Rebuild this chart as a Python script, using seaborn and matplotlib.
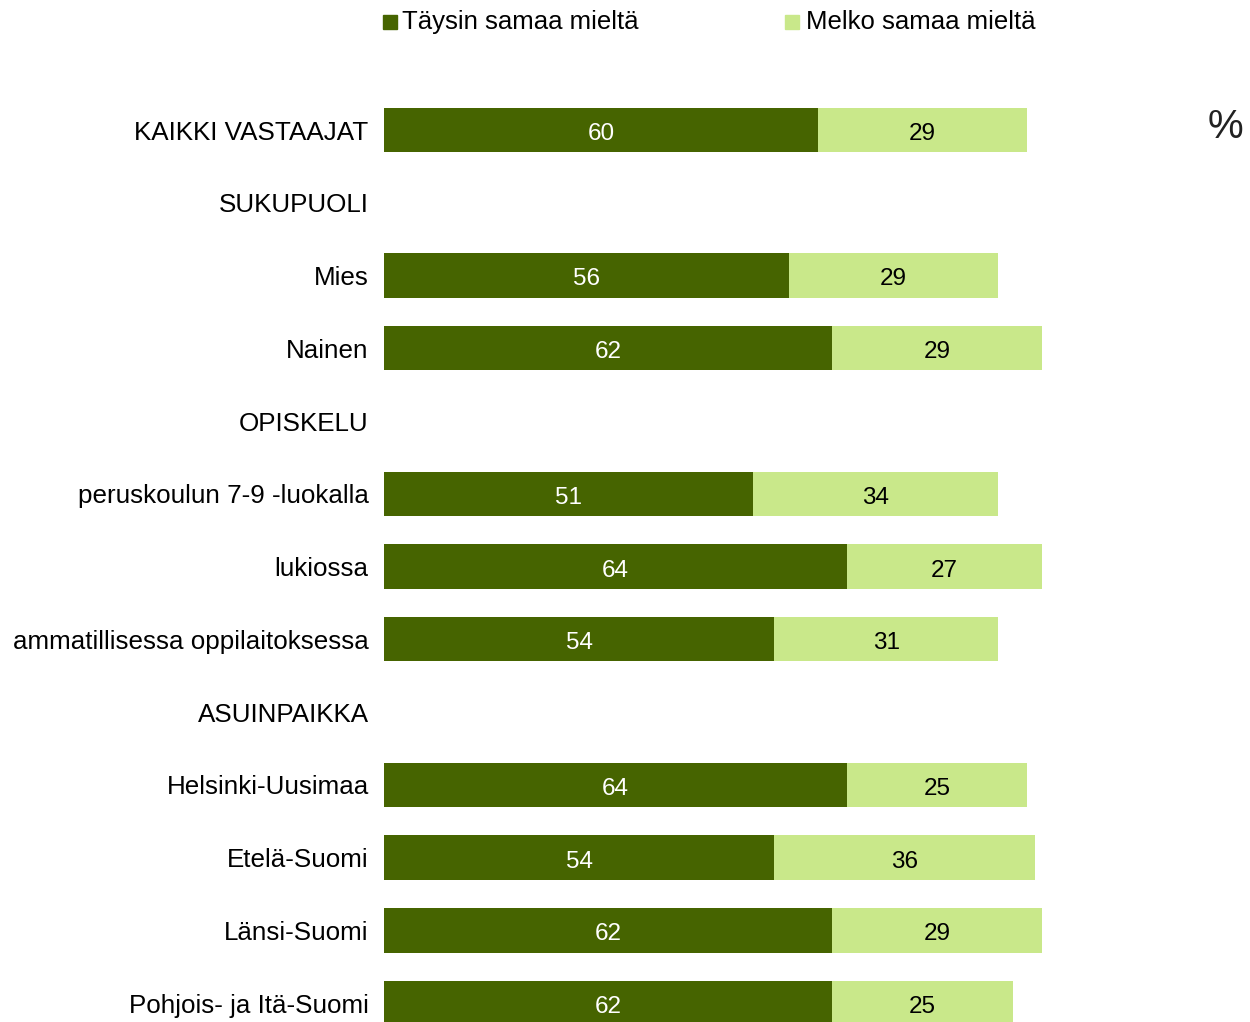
import matplotlib
matplotlib.use('Agg')
import matplotlib.pyplot as plt
import seaborn as sns
import pandas as pd

# rows in display order; headers have no bars
rows = ['KAIKKI VASTAAJAT', 'SUKUPUOLI', 'Mies', 'Nainen', 'OPISKELU',
        'peruskoulun 7-9 -luokalla', 'lukiossa', 'ammatillisessa oppilaitoksessa',
        'ASUINPAIKKA', 'Helsinki-Uusimaa', 'Etelä-Suomi', 'Länsi-Suomi',
        'Pohjois- ja Itä-Suomi']
bar_rows = ['KAIKKI VASTAAJAT', 'Mies', 'Nainen', 'peruskoulun 7-9 -luokalla',
            'lukiossa', 'ammatillisessa oppilaitoksessa', 'Helsinki-Uusimaa',
            'Etelä-Suomi', 'Länsi-Suomi', 'Pohjois- ja Itä-Suomi']
taysin = [60, 56, 62, 51, 64, 54, 64, 54, 62, 62]
melko = [29, 29, 29, 34, 27, 31, 25, 36, 29, 25]
series_names = ['Täysin samaa mieltä', 'Melko samaa mieltä']

dark = '#466400'
light = '#c9e88a'

df = pd.DataFrame({'ryhma': bar_rows, 'taysin': taysin, 'melko': melko})
df['yht'] = df['taysin'] + df['melko']

sns.set_style('white')
plt.rcParams['font.family'] = ['Liberation Sans', 'DejaVu Sans']
plt.rcParams['text.color'] = 'black'

fig = plt.figure(figsize=(12.5, 10.22), dpi=100)
ax = fig.add_axes([384 / 1250, 0, 1 - 384 / 1250, 1])

sns.barplot(data=df, y='ryhma', x='yht', order=rows, color=light, width=0.61,
            saturation=1, orient='h', ax=ax, errorbar=None, linewidth=0)
sns.barplot(data=df, y='ryhma', x='taysin', order=rows, color=dark, width=0.61,
            saturation=1, orient='h', ax=ax, errorbar=None, linewidth=0)

# value labels
for rect, v in zip(ax.containers[1], taysin):
    ax.text(rect.get_x() + rect.get_width() / 2, rect.get_y() + rect.get_height() / 2 + 0.02,
            str(v), ha='center', va='center_baseline', color='white', fontsize=17.5)
for rect, t, m in zip(ax.containers[1], taysin, melko):
    ax.text(t + m / 2, rect.get_y() + rect.get_height() / 2 + 0.02,
            str(m), ha='center', va='center_baseline', color='black', fontsize=17.5)

ax.set_xlim(0, 119.8)
ax.set_ylim(12.26, -1.787)
ax.set_xlabel('')
ax.set_ylabel('')
ax.set_xticks([])
ax.tick_params(axis='y', length=0, pad=11, labelsize=18.7, labelcolor='black')
sns.despine(ax=ax, left=True, bottom=True)

# legend
fig.text(402 / 1250, 1 - 22 / 1022, series_names[0], ha='left', va='center',
         fontsize=18.5, color='black')
fig.text(806 / 1250, 1 - 22 / 1022, series_names[1], ha='left', va='center',
         fontsize=18.5, color='black')
fig.patches.append(plt.Rectangle((383 / 1250, 1 - 29 / 1022), 14 / 1250, 14 / 1022,
                                 transform=fig.transFigure, color=dark, figure=fig))
fig.patches.append(plt.Rectangle((785 / 1250, 1 - 29 / 1022), 14 / 1250, 14 / 1022,
                                 transform=fig.transFigure, color=light, figure=fig))

fig.text(1225 / 1250, 1 - 127 / 1022, '%', ha='center', va='center', fontsize=29,
         color='#222222')

fig.savefig('out.png', dpi=100)
